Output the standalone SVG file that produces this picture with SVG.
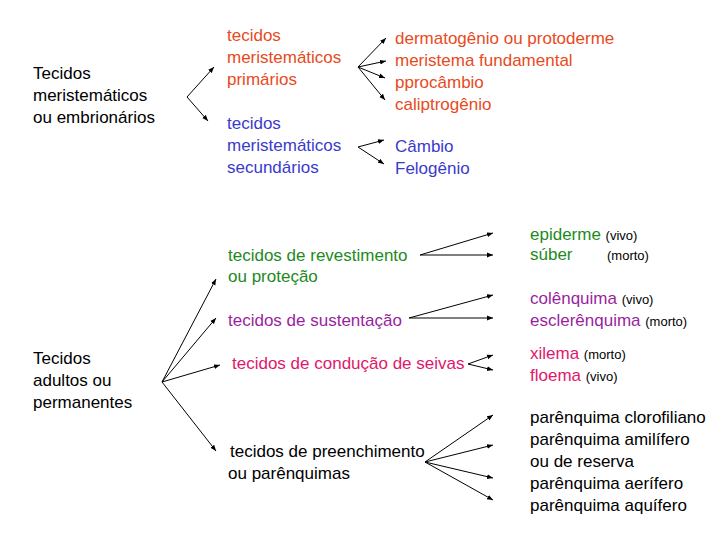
<svg xmlns="http://www.w3.org/2000/svg" width="728" height="546" viewBox="0 0 728 546">
<defs>
<marker id="a" viewBox="0 0 10 10" refX="10" refY="5" markerWidth="6" markerHeight="6" orient="auto"><path d="M0,1 L10,5 L0,9 z" fill="#000"/></marker>
<style>
text{font-family:"Liberation Sans",Arial,sans-serif;font-size:17px}
.s{font-size:13px}
.r{fill:#e84a1c}.b{fill:#3a3acc}.g{fill:#1d8a1d}.p{fill:#9a1fa0}.k{fill:#e0176c}.n{fill:#000}
line{stroke:#000;stroke-width:1;marker-end:url(#a)}
</style>
</defs>
<rect width="728" height="546" fill="#fff"/>
<g id="connectors">
<line x1="187" y1="97" x2="214" y2="67"/>
<line x1="187" y1="97" x2="208" y2="121"/>
<line x1="358" y1="67" x2="386" y2="38"/>
<line x1="358" y1="67" x2="386" y2="61"/>
<line x1="358" y1="67" x2="385" y2="78"/>
<line x1="358" y1="67" x2="385" y2="100"/>
<line x1="358" y1="147" x2="384" y2="140"/>
<line x1="358" y1="147" x2="384" y2="164"/>
<line x1="162" y1="382" x2="216" y2="279"/>
<line x1="162" y1="382" x2="216" y2="318"/>
<line x1="162" y1="382" x2="220" y2="365"/>
<line x1="162" y1="382" x2="216" y2="451"/>
<line x1="420" y1="255" x2="493" y2="233"/>
<line x1="420" y1="255" x2="493" y2="255"/>
<line x1="409" y1="318" x2="493" y2="295"/>
<line x1="409" y1="318" x2="493" y2="318"/>
<line x1="468" y1="364" x2="493" y2="355"/>
<line x1="468" y1="364" x2="493" y2="370"/>
<line x1="425" y1="462" x2="493" y2="415"/>
<line x1="425" y1="462" x2="493" y2="445"/>
<line x1="425" y1="462" x2="493" y2="478"/>
<line x1="425" y1="462" x2="493" y2="500"/>
</g>
<g id="meristematicos"><text class="n" x="33" y="79">Tecidos</text><text class="n" x="33" y="101">meristemáticos</text><text class="n" x="33" y="123">ou embrionários</text></g>
<g id="primarios"><text class="r" x="227" y="41">tecidos</text><text class="r" x="227" y="63">meristemáticos</text><text class="r" x="227" y="85">primários</text></g>
<g id="secundarios"><text class="b" x="227" y="129">tecidos</text><text class="b" x="227" y="151">meristemáticos</text><text class="b" x="227" y="173">secundários</text></g>
<g id="prim-list"><text class="r" x="395" y="44">dermatogênio ou protoderme</text><text class="r" x="395" y="66">meristema fundamental</text><text class="r" x="395" y="88">pprocâmbio</text><text class="r" x="395" y="110">caliptrogênio</text></g>
<g id="sec-list"><text class="b" x="395" y="152">Câmbio</text><text class="b" x="395" y="174">Felogênio</text></g>
<g id="adultos"><text class="n" x="33" y="364">Tecidos</text><text class="n" x="33" y="386">adultos ou</text><text class="n" x="33" y="408">permanentes</text></g>
<g id="revestimento"><text class="g" x="228" y="261">tecidos de revestimento</text><text class="g" x="228" y="282">ou proteção</text></g>
<g id="sustentacao"><text class="p" x="228" y="326">tecidos de sustentação</text></g>
<g id="conducao"><text class="k" x="232" y="369">tecidos de condução de seivas</text></g>
<g id="preenchimento"><text class="n" x="230" y="457">tecidos de preenchimento</text><text class="n" x="228" y="479">ou parênquimas</text></g>
<g id="rev-list"><text class="g" x="530" y="240">epiderme <tspan class="s n">(vivo)</tspan></text><text class="g" x="530" y="260">súber</text><text class="s n" x="607" y="260">(morto)</text></g>
<g id="sus-list"><text class="p" x="530" y="304">colênquima <tspan class="s n">(vivo)</tspan></text><text class="p" x="530" y="326">esclerênquima <tspan class="s n">(morto)</tspan></text></g>
<g id="con-list"><text class="k" x="530" y="359">xilema <tspan class="s n">(morto)</tspan></text><text class="k" x="530" y="381">floema <tspan class="s n">(vivo)</tspan></text></g>
<g id="par-list"><text class="n" x="530" y="423">parênquima clorofiliano</text><text class="n" x="530" y="445">parênquima amilífero</text><text class="n" x="530" y="467">ou de reserva</text><text class="n" x="530" y="489">parênquima aerífero</text><text class="n" x="530" y="511">parênquima aquífero</text></g>
</svg>
